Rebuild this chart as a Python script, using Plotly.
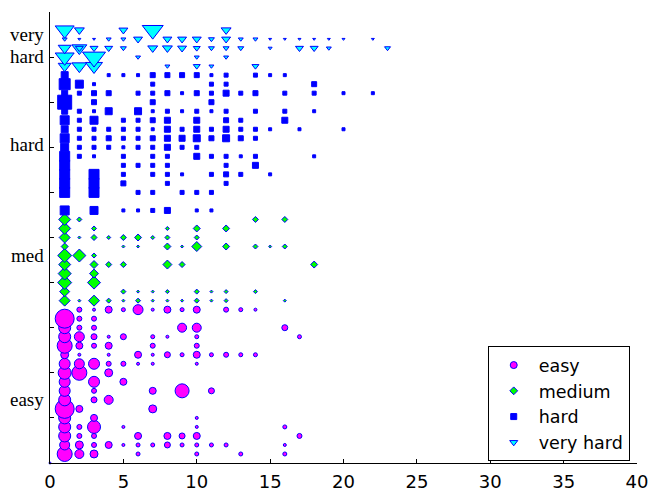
import plotly.graph_objects as go

# ---------------- data (x = count, y = row index, w = marker width in px) -------------
easy_x = [0,
          1, 2, 3, 6, 10, 13, 16,
          1, 2, 3, 4, 5, 6, 7, 8, 9, 10, 11, 12, 16,
          1, 2, 3, 6, 8, 9, 10, 17,
          1, 2, 3, 5, 10, 16,
          1, 3, 10,
          1, 2, 7,
          1, 3, 4,
          1, 3, 7, 9, 11,
          1, 3, 5,
          1, 2, 4,
          1, 2, 3, 4, 5, 6, 7, 10,
          1, 2, 4, 6, 7, 8, 9, 10, 11, 12, 13, 14,
          1, 2, 3, 4, 7, 10,
          1, 2, 3, 4, 5, 7, 8, 10, 17,
          1, 2, 3, 9, 10, 16,
          1, 2, 3,
          2, 3, 4, 5, 6, 7, 8, 9, 10, 12, 13, 14]
easy_y = [0,
          1, 1, 1, 1, 1, 1, 1,
          2, 2, 2, 2, 2, 2, 2, 2, 2, 2, 2, 2, 2,
          3, 3, 3, 3, 3, 3, 3, 3,
          4, 4, 4, 4, 4, 4,
          5, 5, 5,
          6, 6, 6,
          7, 7, 7,
          8, 8, 8, 8, 8,
          9, 9, 9,
          10, 10, 10,
          11, 11, 11, 11, 11, 11, 11, 11,
          12, 12, 12, 12, 12, 12, 12, 12, 12, 12, 12, 12,
          13, 13, 13, 13, 13, 13,
          14, 14, 14, 14, 14, 14, 14, 14, 14,
          15, 15, 15, 15, 15, 15,
          16, 16, 16,
          17, 17, 17, 17, 17, 17, 17, 17, 17, 17, 17, 17]
easy_w = [3,
          16, 10, 9, 5, 5, 5, 5,
          11, 9, 6, 8, 4, 5, 5, 7, 5, 5, 5, 5, 4,
          13, 6, 6, 8, 8, 7, 8, 6,
          13, 6, 14, 4, 4, 5,
          13, 8, 4,
          20, 8, 9,
          13, 7, 10,
          12, 6, 8, 15, 7,
          12, 12, 8,
          14, 16, 9,
          12, 11, 12, 6, 6, 4, 4, 4,
          9, 4, 4, 8, 4, 7, 5, 8, 5, 6, 5, 5,
          16, 8, 6, 8, 6, 6,
          13, 11, 7, 4, 7, 5, 4, 5, 5,
          13, 6, 6, 10, 10, 7,
          20, 6, 6,
          6, 4, 8, 5, 11, 4, 8, 5, 8, 6, 5, 4]

medium_x = [1, 2, 3, 4, 5, 6, 7, 8, 9, 10, 11, 12, 16,
            1, 5, 6, 7, 8, 10, 11, 12, 14,
            1, 3,
            1, 3,
            1, 3, 4, 5, 8, 9, 18,
            1, 2, 3,
            1, 5, 6, 8, 9, 10, 12, 14, 15, 16,
            1, 2, 3, 4, 5, 6, 7, 8, 10,
            1, 3, 8, 10, 12,
            1, 2, 14, 16]
medium_y = [18, 18, 18, 18, 18, 18, 18, 18, 18, 18, 18, 18, 18,
            19, 19, 19, 19, 19, 19, 19, 19, 19,
            20, 20,
            21, 21,
            22, 22, 22, 22, 22, 22, 22,
            23, 23, 23,
            24, 24, 24, 24, 24, 24, 24, 24, 24, 24,
            25, 25, 25, 25, 25, 25, 25, 25, 25,
            26, 26, 26, 26, 26,
            27, 27, 27, 27]
medium_w = [12, 4, 12, 6, 4, 6, 4, 4, 4, 6, 4, 5, 4,
            11, 6, 4, 4, 5, 6, 4, 5, 5,
            15, 14,
            14, 10,
            13, 9, 7, 7, 10, 7, 8,
            15, 14, 6,
            8, 4, 4, 8, 4, 11, 8, 6, 4, 6,
            12, 4, 7, 5, 7, 8, 5, 6, 6,
            13, 6, 5, 8, 8,
            13, 6, 7, 7]

hard_x = [1, 3, 5, 6, 7, 8, 10, 11,
          1, 3, 6, 7, 9, 10, 11,
          1, 3, 5, 8, 12,
          1, 3, 5, 7, 8, 9, 11, 12, 13, 15,
          1, 5, 6, 7, 8, 12, 14,
          1, 2, 3, 5, 7, 8, 10, 11, 12, 13, 14, 18,
          1, 2, 3, 4, 5, 6, 7, 8, 9, 10,
          1, 2, 3, 4, 5, 6, 7, 8, 9, 10, 11, 12, 13, 14,
          1, 2, 3, 4, 5, 6, 7, 8, 9, 10, 11, 12, 13, 14, 15, 17, 20,
          1, 2, 3, 5, 6, 7, 8, 10, 12, 13, 16,
          1, 2, 3, 4, 6, 7, 8, 9, 10, 11, 12, 14, 16, 18,
          1, 3, 7, 11,
          1, 2, 3, 4, 6, 7, 8, 9, 10, 11, 12, 13, 14, 16, 18, 20, 22,
          1, 2, 3, 7, 11, 12, 18,
          1, 4, 5, 6, 7, 8, 9, 10, 11, 12, 14, 15, 16]
hard_y = [28, 28, 28, 28, 28, 28, 28, 28,
          30, 30, 30, 30, 30, 30, 30,
          31, 31, 31, 31, 31,
          32, 32, 32, 32, 32, 32, 32, 32, 32, 32,
          33, 33, 33, 33, 33, 33, 33,
          34, 34, 34, 34, 34, 34, 34, 34, 34, 34, 34, 34,
          35, 35, 35, 35, 35, 35, 35, 35, 35, 35,
          36, 36, 36, 36, 36, 36, 36, 36, 36, 36, 36, 36, 36, 36,
          37, 37, 37, 37, 37, 37, 37, 37, 37, 37, 37, 37, 37, 37, 37, 37, 37,
          38, 38, 38, 38, 38, 38, 38, 38, 38, 38, 38,
          39, 39, 39, 39, 39, 39, 39, 39, 39, 39, 39, 39, 39, 39,
          40, 40, 40, 40,
          41, 41, 41, 41, 41, 41, 41, 41, 41, 41, 41, 41, 41, 41, 41, 41, 41,
          42, 42, 42, 42, 42, 42, 42,
          43, 43, 43, 43, 43, 43, 43, 43, 43, 43, 43, 43, 43]
hard_w = [10, 9, 4, 4, 5, 7, 4, 4,
          11, 11, 5, 5, 5, 5, 5,
          11, 11, 6, 5, 5,
          11, 11, 5, 5, 5, 4, 5, 6, 5, 4,
          11, 5, 5, 5, 5, 5, 7,
          11, 5, 4, 5, 5, 5, 7, 5, 5, 4, 5, 4,
          9, 5, 5, 5, 4, 5, 5, 7, 5, 5,
          10, 5, 5, 6, 5, 5, 6, 7, 7, 8, 6, 8, 6, 5,
          8, 5, 5, 5, 5, 5, 4, 7, 5, 7, 5, 7, 5, 5, 4, 4, 4,
          10, 5, 9, 5, 5, 6, 7, 7, 6, 5, 7,
          7, 5, 4, 8, 8, 4, 5, 4, 5, 4, 5, 5, 5, 4,
          15, 6, 6, 6,
          7, 5, 6, 6, 5, 5, 6, 4, 6, 5, 7, 5, 6, 5, 5, 4, 4,
          12, 9, 4, 5, 5, 5, 6,
          8, 4, 4, 4, 6, 6, 6, 6, 4, 5, 5, 4, 4]

vhard_x = [1, 2, 3, 8, 10, 11, 14,
           1, 3, 6, 10, 12,
           1, 2, 2, 3, 4, 5, 7, 8, 9, 10, 11, 12, 13, 15, 17, 18, 19, 23,
           1, 2, 3, 4, 5, 6, 8, 9, 10, 11, 12, 13, 14, 15, 16, 17, 18, 19, 20, 22,
           1, 2, 5, 7, 12]
vhard_y = [44, 44, 44, 44, 44, 44, 44,
           45, 45, 45, 45, 45,
           46, 46, 46, 46, 46, 46, 46, 46, 46, 46, 46, 46, 46, 46, 46, 46, 46, 46,
           47, 47, 47, 47, 47, 47, 47, 47, 47, 47, 47, 47, 47, 47, 47, 47, 47, 47, 47, 47,
           48, 48, 48, 48, 48]
vhard_w = [14, 16, 18, 6, 8, 6, 8,
           20, 24, 6, 6, 6,
           14, 16, 9, 9, 9, 7, 11, 11, 10, 8, 7, 7, 7, 5, 9, 9, 6, 7,
           6, 4, 4, 6, 6, 10, 10, 10, 10, 7, 10, 6, 6, 4, 4, 4, 4, 4, 4, 4,
           20, 11, 10, 22, 11]

series_names = ["easy", "medium", "hard", "very hard"]
x_ticks = [0, 5, 10, 15, 20, 25, 30, 35, 40]
y_ticks = [0, 5, 10, 15, 20, 25, 30, 35, 40, 45, 50]
ylabel_text = ["easy", "med", "hard", "hard", "very"]
ylabel_pos = [7.03, 22.96, 35.35, 45.05, 47.5]

# ---------------- styling ----------------
EDGE = "#0000FF"
styles = [
    dict(symbol="circle", color="#FF00FF", k=1.0, leg=7),
    dict(symbol="diamond", color="#00FF00", k=1.3, leg=6),
    dict(symbol="square", color="#0000FF", k=1.0, leg=6),
    dict(symbol="triangle-down", color="#00FFFF", k=1.155, leg=7),
]
data = [(easy_x, easy_y, easy_w), (medium_x, medium_y, medium_w),
        (hard_x, hard_y, hard_w), (vhard_x, vhard_y, vhard_w)]

fig = go.Figure()
for (xs, ys, ws), st in zip(data, styles):
    sizes = [max(1.0, (w - 1) / st["k"]) for w in ws]
    fig.add_trace(go.Scatter(
        x=xs, y=ys, mode="markers", showlegend=False, cliponaxis=False,
        marker=dict(symbol=st["symbol"], color=st["color"], size=sizes, opacity=1,
                    line=dict(color=EDGE, width=1)),
        hoverinfo="skip"))
for name, st in zip(series_names, styles):
    fig.add_trace(go.Scatter(
        x=[None], y=[None], mode="markers", name=name,
        marker=dict(symbol=st["symbol"], color=st["color"], size=st["leg"], opacity=1,
                    line=dict(color=EDGE, width=1))))

for txt, pos in zip(ylabel_text, ylabel_pos):
    fig.add_annotation(text=txt, xref="paper", x=0, xanchor="right", xshift=-4,
                       yref="y", y=pos, yanchor="middle", showarrow=False,
                       font=dict(family="Liberation Serif", size=19, color="black"))

fig.update_layout(
    width=651, height=492,
    margin=dict(l=50, r=14, t=12, b=29),
    plot_bgcolor="white", paper_bgcolor="white",
    font=dict(family="DejaVu Sans", size=18, color="black"),
    xaxis=dict(range=[0, 40], tickvals=x_ticks, ticks="inside", ticklen=4,
               tickcolor="black", showline=True, linecolor="black", linewidth=1,
               showgrid=False, zeroline=False, automargin=False,
               ticklabelstandoff=2,
               tickfont=dict(family="DejaVu Sans", size=18, color="black")),
    yaxis=dict(range=[0, 50], tickvals=y_ticks, ticks="inside", ticklen=4,
               tickcolor="black", showline=True, linecolor="black", linewidth=1,
               showgrid=False, zeroline=False, showticklabels=False,
               automargin=False),
    legend=dict(x=0.7457, y=0.004, xanchor="left", yanchor="bottom",
                bgcolor="white", bordercolor="black", borderwidth=1,
                font=dict(family="DejaVu Sans", size=17.5, color="black"),
                itemwidth=40),
)

fig.write_html("out.html")
